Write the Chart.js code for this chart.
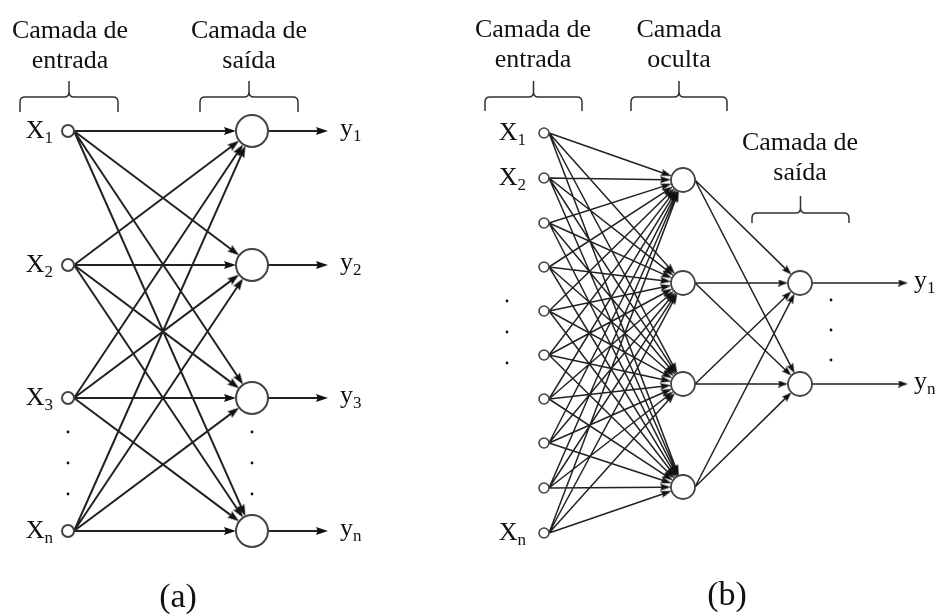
<!DOCTYPE html>
<html>
<head>
<meta charset="utf-8">
<script src="https://cdn.jsdelivr.net/npm/chart.js@4.4.0/dist/chart.umd.min.js"></script>
<style>
  html, body { margin: 0; background: #fff; }
</style>
</head>
<body>
<canvas id="rede" width="944" height="615"></canvas>
<script>
// Rede (a): camada de entrada -> camada de saída
const indicesEntradaA = ['1', '2', '3', 'n'];
const indicesSaidaA = ['1', '2', '3', 'n'];
const yEntradaA = [131, 265, 398, 531];
const ySaidaA = [131, 265, 398, 531];
const yPontosA = [432, 463, 494];

// Rede (b): entrada -> camada oculta -> saída
const indicesEntradaB = ['1', '2', '', '', '', '', '', '', '', 'n'];
const indicesSaidaB = ['1', 'n'];
const yEntradaB = [133, 178, 223, 267, 311, 355, 399, 443, 488, 533];
const yOcultaB = [180, 283, 384, 487];
const ySaidaB = [283, 384];
const yPontosEntradaB = [301, 332, 363];
const yPontosSaidaB = [300, 330, 360];

// textos
const titulosA = [['Camada de', 'entrada'], ['Camada de', 'saída']];
const titulosB = [['Camada de', 'entrada'], ['Camada', 'oculta'], ['Camada de', 'saída']];
const legendas = ['(a)', '(b)'];

// posição das camadas (coordenadas do eixo)
const xEntradaA = 68, xSaidaA = 252, xFimA = 328;
const xEntradaB = 544, xOcultaB = 683, xSaidaB = 800, xFimB = 908;
const rEntradaA = 6, rSaidaA = 16;
const rEntradaB = 5, rOcultaB = 12, rSaidaB = 12;

const corLinha = '#222';
const corTexto = '#111';
const fonte = '"Liberation Serif", "Times New Roman", serif';

// cabeça de seta desenhada num canvas (ponta para cima)
function criarSeta(larg, comp) {
  const c = document.createElement('canvas');
  c.width = larg;
  c.height = comp;
  const g = c.getContext('2d');
  g.fillStyle = '#111';
  g.beginPath();
  g.moveTo(larg / 2, 0);
  g.lineTo(larg, comp);
  g.lineTo(larg / 2, comp * 0.85);
  g.lineTo(0, comp);
  g.closePath();
  g.fill();
  return c;
}

function nos(x, ys, r) {
  return ys.map(y => ({ x: x, y: y, r: r }));
}

// liga todos com todos; devolve segmentos (separados por null) e setas
function ligacoes(origens, destinos, compSeta) {
  const linhas = [];
  const setas = [];
  origens.forEach(o => {
    destinos.forEach(d => {
      const sx = o.x + o.r, sy = o.y;
      const dx = d.x - sx, dy = d.y - sy;
      const L = Math.hypot(dx, dy);
      const ux = dx / L, uy = dy / L;
      const tx = d.x - d.r * ux, ty = d.y - d.r * uy;
      linhas.push({ x: sx, y: sy }, { x: tx - ux * compSeta * 0.5, y: ty - uy * compSeta * 0.5 }, { x: null, y: null });
      setas.push({ x: tx - ux * compSeta / 2, y: ty - uy * compSeta / 2, ang: Math.atan2(dy, dx) * 180 / Math.PI + 90 });
    });
  });
  return { linhas, setas };
}

const entA = nos(xEntradaA, yEntradaA, rEntradaA);
const saiA = nos(xSaidaA, ySaidaA, rSaidaA);
const fimA = nos(xFimA, ySaidaA, 0);
const entB = nos(xEntradaB, yEntradaB, rEntradaB);
const ocuB = nos(xOcultaB, yOcultaB, rOcultaB);
const saiB = nos(xSaidaB, ySaidaB, rSaidaB);
const fimB = nos(xFimB, ySaidaB, 0);

const ligA = ligacoes(entA, saiA, 12);
// saídas (a): cada nó só com a sua seta
const ligFimA = { linhas: [], setas: [] };
saiA.forEach((s, i) => {
  const l = ligacoes([s], [fimA[i]], 12);
  ligFimA.linhas.push(...l.linhas);
  ligFimA.setas.push(...l.setas);
});
const ligB1 = ligacoes(entB, ocuB, 11);
const ligB2 = ligacoes(ocuB, saiB, 10);
const ligFimB = { linhas: [], setas: [] };
saiB.forEach((s, i) => {
  const l = ligacoes([s], [fimB[i]], 10);
  ligFimB.linhas.push(...l.linhas);
  ligFimB.setas.push(...l.setas);
});

const setaA = criarSeta(8, 12);
const setaB1 = criarSeta(7, 11);
const setaB2 = criarSeta(7, 10);

function dsLinhas(dados, largura) {
  return {
    data: dados, showLine: true, spanGaps: false, borderColor: corLinha,
    borderWidth: largura, pointRadius: 0, order: 3
  };
}
function dsSetas(dados, img) {
  return {
    data: dados, showLine: false, pointStyle: img, pointRadius: 5,
    pointRotation: c => (c.raw ? c.raw.ang : 0), order: 2
  };
}
function dsNos(dados, r, borda) {
  return {
    data: dados, showLine: false, pointStyle: 'circle', pointRadius: r,
    pointBackgroundColor: '#fff', pointBorderColor: '#444', pointBorderWidth: borda, order: 1
  };
}
function dsPontos(x, ys) {
  return {
    data: ys.map(y => ({ x: x, y: y })), showLine: false, pointStyle: 'circle', pointRadius: 1.4,
    pointBackgroundColor: '#111', pointBorderWidth: 0, order: 1
  };
}

// chaves
function chave(ctx, x1, x2, yh, desce, sobe) {
  const xm = (x1 + x2) / 2, r = 5;
  ctx.beginPath();
  ctx.moveTo(x1, yh + desce);
  ctx.lineTo(x1, yh + r);
  ctx.quadraticCurveTo(x1, yh, x1 + r, yh);
  ctx.lineTo(xm - r, yh);
  ctx.quadraticCurveTo(xm, yh, xm, yh - r);
  ctx.lineTo(xm, yh - sobe);
  ctx.moveTo(xm, yh - r);
  ctx.quadraticCurveTo(xm, yh, xm + r, yh);
  ctx.lineTo(x2 - r, yh);
  ctx.quadraticCurveTo(x2, yh, x2, yh + r);
  ctx.lineTo(x2, yh + desce);
  ctx.stroke();
}

function rotuloIndice(ctx, letra, indice, x, y, tam, tamInd, alinhar) {
  ctx.font = tam + 'px ' + fonte;
  const w1 = ctx.measureText(letra).width;
  ctx.font = tamInd + 'px ' + fonte;
  const w2 = ctx.measureText(indice).width;
  let x0 = alinhar === 'right' ? x - w1 - w2 : x;
  ctx.textAlign = 'left';
  ctx.textBaseline = 'alphabetic';
  ctx.font = tam + 'px ' + fonte;
  ctx.fillText(letra, x0, y);
  ctx.font = tamInd + 'px ' + fonte;
  ctx.fillText(indice, x0 + w1, y + 5);
}

const pluginTextos = {
  id: 'textos',
  afterDatasetsDraw(chart) {
    const ctx = chart.ctx;
    const sx = chart.scales.x, sy = chart.scales.y;
    const px = v => sx.getPixelForValue(v);
    const py = v => sy.getPixelForValue(v);
    ctx.save();
    ctx.fillStyle = corTexto;
    ctx.strokeStyle = '#333';
    ctx.lineWidth = 1.5;

    // títulos das camadas
    const titulo = (linhas, x, y1, y2) => {
      ctx.font = '26px ' + fonte;
      ctx.textAlign = 'center';
      ctx.textBaseline = 'alphabetic';
      ctx.fillText(linhas[0], px(x), py(y1));
      ctx.fillText(linhas[1], px(x), py(y2));
    };
    titulo(titulosA[0], 70, 38, 68);
    titulo(titulosA[1], 249, 38, 68);
    titulo(titulosB[0], 533, 37, 67);
    titulo(titulosB[1], 679, 37, 67);
    titulo(titulosB[2], 800, 150, 180);

    chave(ctx, px(20), px(118), py(97), 15, 16);
    chave(ctx, px(200), px(298), py(97), 15, 16);
    chave(ctx, px(485), px(582), py(97), 14, 16);
    chave(ctx, px(631), px(727), py(97), 14, 16);
    chave(ctx, px(752), px(849), py(213), 10, 17);

    // rótulos X e y
    indicesEntradaA.forEach((t, i) => {
      rotuloIndice(ctx, 'X', t, px(xEntradaA - rEntradaA - 9), py(yEntradaA[i] + 7), 26, 17, 'right');
    });
    indicesSaidaA.forEach((t, i) => {
      rotuloIndice(ctx, 'y', t, px(xFimA + 12), py(ySaidaA[i] + 5), 26, 17, 'left');
    });
    indicesEntradaB.forEach((t, i) => {
      if (t) rotuloIndice(ctx, 'X', t, px(xEntradaB - rEntradaB - 13), py(yEntradaB[i] + 7), 26, 17, 'right');
    });
    indicesSaidaB.forEach((t, i) => {
      rotuloIndice(ctx, 'y', t, px(xFimB + 6), py(ySaidaB[i] + 5), 26, 17, 'left');
    });

    // (a) e (b)
    ctx.font = '34px ' + fonte;
    ctx.textAlign = 'center';
    ctx.fillText(legendas[0], px(178), py(607));
    ctx.fillText(legendas[1], px(727), py(605));
    ctx.restore();
  }
};

const ctxRede = document.getElementById('rede').getContext('2d');
const grafico = new Chart(ctxRede, {
  type: 'scatter',
  data: {
    datasets: [
      dsNos(entA, rEntradaA, 2),
      dsNos(saiA, rSaidaA, 2),
      dsNos(entB, rEntradaB, 1.6),
      dsNos(ocuB, rOcultaB, 1.8),
      dsNos(saiB, rSaidaB, 1.8),
      dsPontos(xEntradaA, yPontosA),
      dsPontos(xSaidaA, yPontosA),
      dsPontos(507, yPontosEntradaB),
      dsPontos(831, yPontosSaidaB),
      dsSetas(ligA.setas, setaA),
      dsSetas(ligFimA.setas, setaA),
      dsSetas(ligB1.setas, setaB1),
      dsSetas(ligB2.setas, setaB2),
      dsSetas(ligFimB.setas, setaB2),
      dsLinhas(ligA.linhas, 2),
      dsLinhas(ligFimA.linhas, 2),
      dsLinhas(ligB1.linhas, 1.5),
      dsLinhas(ligB2.linhas, 1.5),
      dsLinhas(ligFimB.linhas, 1.7)
    ]
  },
  options: {
    responsive: false,
    animation: false,
    events: [],
    layout: { padding: 0, autoPadding: false },
    plugins: {
      legend: { display: false },
      tooltip: { enabled: false }
    },
    scales: {
      x: { type: 'linear', min: 0, max: 944, display: false },
      y: { type: 'linear', min: 0, max: 615, reverse: true, display: false }
    }
  },
  plugins: [pluginTextos]
});
</script>
</body>
</html>
